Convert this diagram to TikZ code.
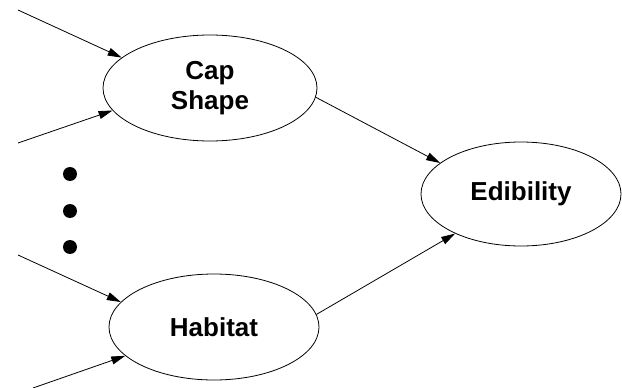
\documentclass[tikz,border=0pt]{standalone}
\usepackage{fontspec}
\setmainfont{Liberation Sans}
\usetikzlibrary{shapes.geometric,arrows.meta}
\begin{document}
\begin{tikzpicture}[x=1pt,y=-1pt,
  var/.style={draw, ellipse, line width=0.8pt, inner sep=0pt, align=center,
              font=\fontsize{26}{30}\selectfont\bfseries},
  link/.style={line width=0.8pt, -{Triangle[length=14pt,width=8pt]}},
  dot/.style={circle, fill=black, inner sep=0pt, minimum size=14pt}]
\useasboundingbox (0,0) rectangle (622,388);

% variables
\node[var, minimum width=214pt, minimum height=106pt] (cap) at (210,88) {Cap\\Shape};
\node[var, minimum width=210pt, minimum height=106pt] (hab) at (214,327) {Habitat};
\node[var, minimum width=200pt, minimum height=104pt] (edi) at (521,194) {Edibility};

% free ends of the incoming links
\coordinate (c1) at (18,10);
\coordinate (c2) at (18,143);
\coordinate (h1) at (18,255);
\coordinate (h2) at (33,388);

% ellipsis between the inputs
\node[dot] (d1) at (70,174) {};
\node[dot] (d2) at (70,211) {};
\node[dot] (d3) at (70,247) {};

% links
\draw[link] (c1) -- (cap.161);
\draw[link] (c2) -- (cap.193);
\draw[link] (h1) -- (hab.165);
\draw[link] (h2) -- (hab.198);
\draw[link] (cap.355) -- (edi.159);
\draw[link] (hab.7) -- (edi.211);
\end{tikzpicture}
\end{document}
